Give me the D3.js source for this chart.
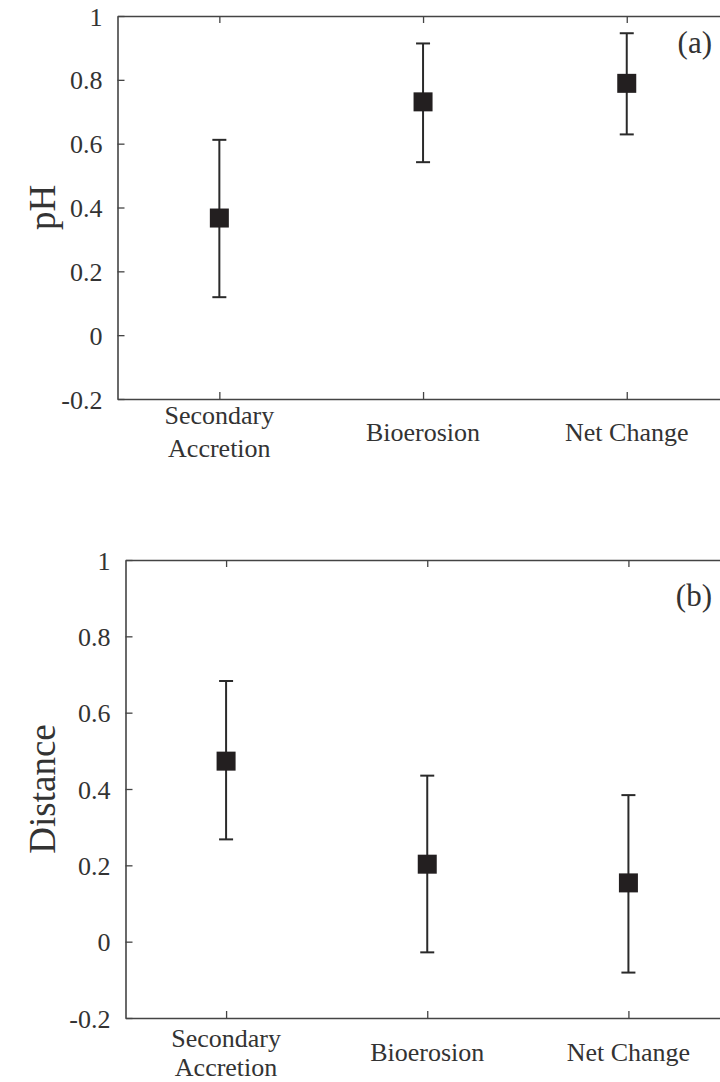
<!DOCTYPE html>
<html>
<head>
<meta charset="utf-8">
<script src="https://cdn.jsdelivr.net/npm/d3@7"></script>
<style>
  body { margin: 0; background: #fff; }
  svg { display: block; }
  text { font-family: "Liberation Serif", "Times New Roman", serif; fill: #333; }
</style>
</head>
<body>
<svg id="chart" width="720" height="1082"></svg>
<script>
// categories along x
var categories = [["Secondary", "Accretion"], ["Bioerosion"], ["Net Change"]];
var yTicks = [-0.2, 0, 0.2, 0.4, 0.6, 0.8, 1];
var yTickLabels = ["-0.2", "0", "0.2", "0.4", "0.6", "0.8", "1"];

// panel (a) pH: mean, lower, upper
var phMean  = [0.367, 0.731, 0.789];
var phLow   = [0.119, 0.542, 0.629];
var phHigh  = [0.612, 0.914, 0.946];

// panel (b) Distance
var distMean = [0.473, 0.203, 0.154];
var distLow  = [0.268, -0.028, -0.081];
var distHigh = [0.683, 0.435, 0.384];

var svg = d3.select("#chart");
var axisCol = "#444";

function panel(o) {
  var x = d3.scaleLinear().domain([0.5, 3.5]).range([o.left, o.right]);
  var y = d3.scaleLinear().domain([-0.2, 1]).range([o.bottom, o.top]);
  var g = svg.append("g");

  // y axis (ticks inside)
  var ya = g.append("g").attr("transform", "translate(" + o.left + ",0)")
    .call(d3.axisLeft(y).tickValues(yTicks).tickSize(-7).tickSizeOuter(0).tickPadding(15)
      .tickFormat(function(d, i) { return yTickLabels[i]; }));
  ya.selectAll("text").style("font-size", "26px").attr("fill", "#333").attr("dy", "0.35em");

  // bottom axis
  g.append("g").attr("transform", "translate(0," + o.bottom + ")")
    .call(d3.axisBottom(x).tickValues([1, 2, 3]).tickSize(-7).tickSizeOuter(0).tickFormat(""));
  // top axis
  g.append("g").attr("transform", "translate(0," + o.top + ")")
    .call(d3.axisTop(x).tickValues([1, 2, 3]).tickSize(-7).tickSizeOuter(0).tickFormat(""));

  g.selectAll(".domain").attr("stroke", axisCol).attr("stroke-width", 1.6);
  g.selectAll(".tick line").attr("stroke", axisCol).attr("stroke-width", 1.3);

  // category labels
  categories.forEach(function(lines, i) {
    var t = g.append("text").attr("x", x(i + 1)).attr("text-anchor", "middle")
      .style("font-size", "26px");
    if (lines.length === 2) {
      t.attr("y", o.bottom + o.lab2);
      lines.forEach(function(l, j) {
        t.append("tspan").attr("x", x(i + 1)).attr("dy", j ? o.lineH : 0).text(l);
      });
    } else {
      t.attr("y", o.bottom + o.lab1).text(lines[0]);
    }
  });

  // error bars
  var cap = 7;
  o.mean.forEach(function(m, i) {
    var cx = x(i + 1);
    g.append("line").attr("x1", cx).attr("x2", cx)
      .attr("y1", y(o.low[i])).attr("y2", y(o.high[i]))
      .attr("stroke", "#2a2a2a").attr("stroke-width", 2);
    [o.low[i], o.high[i]].forEach(function(v) {
      g.append("line").attr("x1", cx - cap).attr("x2", cx + cap)
        .attr("y1", y(v)).attr("y2", y(v))
        .attr("stroke", "#2a2a2a").attr("stroke-width", 2);
    });
    g.append("rect").attr("x", cx - 9.5).attr("y", y(m) - 9.5)
      .attr("width", 19).attr("height", 19).attr("fill", "#231f20");
  });

  // y label
  g.append("text").attr("transform", "translate(" + o.ylx + "," + ((o.top + o.bottom) / 2) + ") rotate(-90)")
    .attr("text-anchor", "middle").style("font-size", "37px").text(o.ylabel);

  // panel letter
  g.append("text").attr("x", 712).attr("y", o.top + o.letterY).attr("text-anchor", "end")
    .style("font-size", "31px").attr("fill", "#111").text(o.letter);
}

panel({ left: 117.5, right: 728.6, top: 16, bottom: 399, mean: phMean, low: phLow, high: phHigh,
        ylabel: "pH", ylx: 55, letter: "(a)", letterY: 37, lab1: 42, lab2: 25, lineH: 33 });
panel({ left: 125.5, right: 729, top: 560, bottom: 1018, mean: distMean, low: distLow, high: distHigh,
        ylabel: "Distance", ylx: 55, letter: "(b)", letterY: 46, lab1: 43, lab2: 29, lineH: 29 });
</script>
</body>
</html>
